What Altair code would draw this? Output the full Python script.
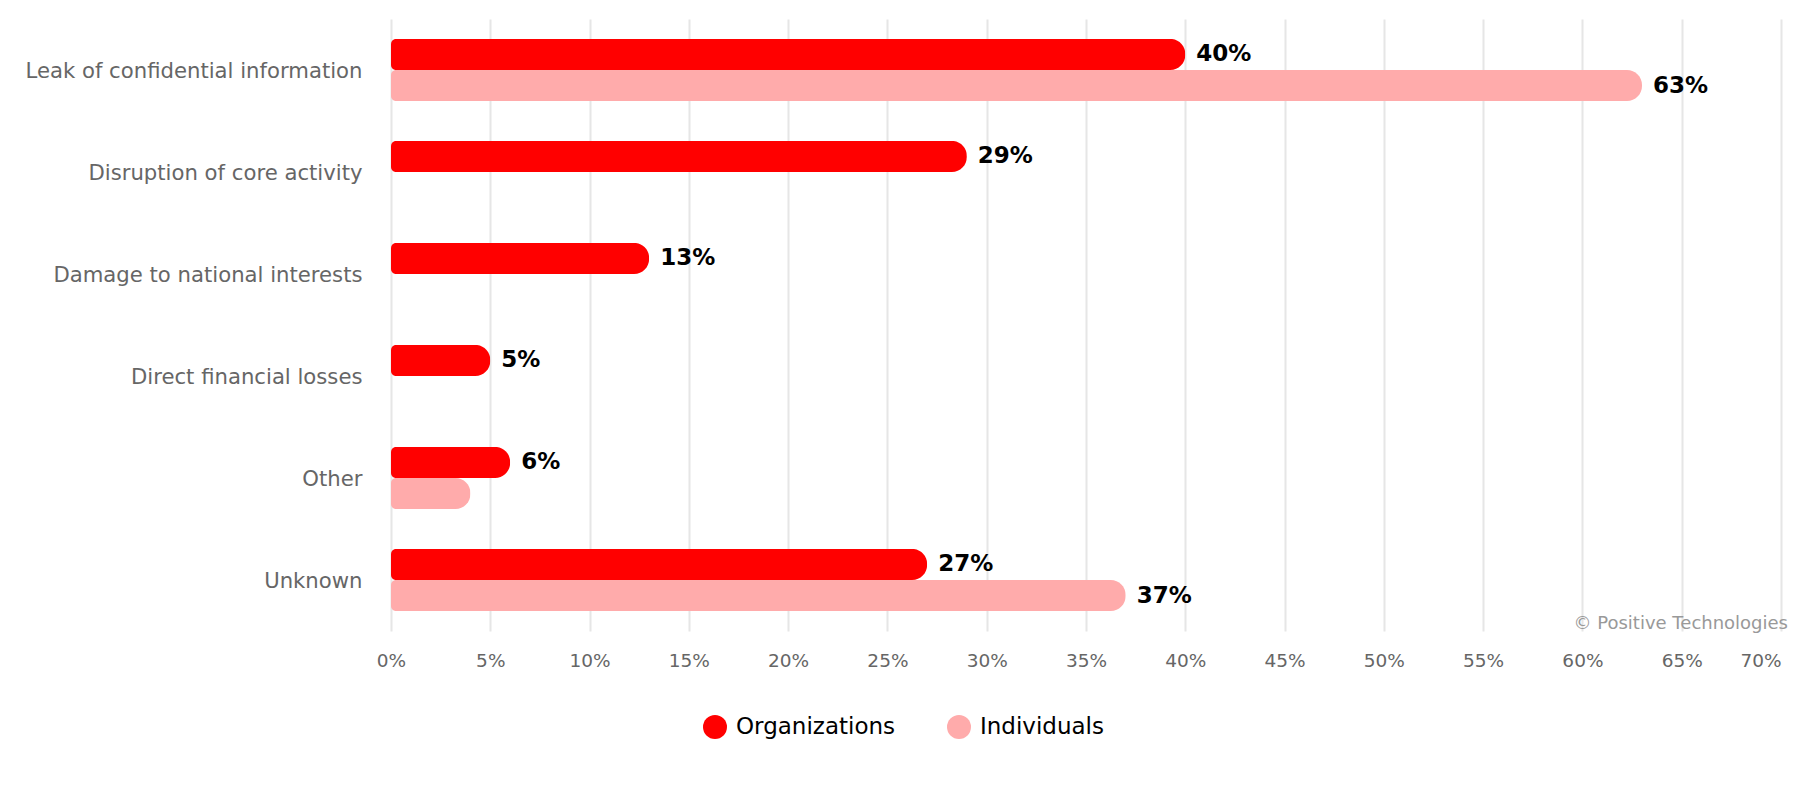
import altair as alt
import pandas as pd

categories = [
    "Leak of confidential information",
    "Disruption of core activity",
    "Damage to national interests",
    "Direct financial losses",
    "Other",
    "Unknown",
]
series = ["Organizations", "Individuals"]
colors = ["#ff0000", "#ffabab"]

org_values = [40, 29, 13, 5, 6, 27]
org_labels = ["40%", "29%", "13%", "5%", "6%", "27%"]
ind_values = [63, None, None, None, 4, 37]
ind_labels = ["63%", "", "", "", "", "37%"]

x_ticks = list(range(0, 75, 5))
credit = "© Positive Technologies"

rows = []
for c, v, l in zip(categories, org_values, org_labels):
    rows.append({"category": c, "series": series[0], "value": v, "label": l})
for c, v, l in zip(categories, ind_values, ind_labels):
    if v is not None:
        rows.append({"category": c, "series": series[1], "value": v, "label": l})
df = pd.DataFrame(rows)

FONT = "DejaVu Sans"

y_enc = alt.Y(
    "category:N",
    sort=categories,
    scale=alt.Scale(paddingInner=0.39, paddingOuter=0.195),
    axis=alt.Axis(
        title=None, domain=False, ticks=False, grid=False,
        labelFontSize=21.2, labelColor="#666666", labelPadding=29, labelFont=FONT,
        labelLimit=500, labelOffset=2,
    ),
)
yoff_enc = alt.YOffset("series:N", sort=series, scale=alt.Scale(paddingInner=0, paddingOuter=0))
x_enc = alt.X(
    "value:Q",
    scale=alt.Scale(domain=[0, 70], nice=False),
    axis=alt.Axis(
        title=None, values=x_ticks, format="d", labelExpr="datum.value + '%'",
        domain=False, ticks=False, grid=True, gridColor="#e6e6e6", gridWidth=2,
        labelFontSize=18.5, labelColor="#666666", labelPadding=20, labelFont=FONT,
        labelAlign=alt.expr("datum.value == 70 ? 'right' : 'center'"),
    ),
)

bars = alt.Chart(df).mark_bar(
    cornerRadiusTopRight=15, cornerRadiusBottomRight=15,
    cornerRadiusTopLeft=5, cornerRadiusBottomLeft=5,
).encode(
    y=y_enc,
    yOffset=yoff_enc,
    x=x_enc,
    color=alt.Color(
        "series:N",
        sort=series,
        scale=alt.Scale(domain=series, range=colors),
        legend=alt.Legend(
            title=None, orient="none", direction="horizontal",
            legendX=312, legendY=696,
            symbolType="circle", symbolSize=576, symbolStrokeWidth=0,
            labelFontSize=23, labelColor="#000000", labelFont=FONT,
            labelOffset=9, columnPadding=51, padding=0,
        ),
    ),
)

labels = alt.Chart(df).mark_text(
    align="left", baseline="middle", dx=11, fontSize=23, fontWeight="bold",
    color="#000000", font=FONT,
).encode(
    y=alt.Y("category:N", sort=categories),
    yOffset=alt.YOffset("series:N", sort=series),
    x=alt.X("value:Q"),
    text="label:N",
)

credit_df = pd.DataFrame({"t": [credit]})
credit_text = alt.Chart(credit_df).mark_text(
    align="right", baseline="middle", fontSize=18, color="#999999", font=FONT,
).encode(
    x=alt.value(1397),
    y=alt.value(605),
    text="t:N",
)

chart = alt.layer(bars, labels, credit_text).properties(
    width=1390,
    height=612,
    padding={"left": 391, "top": 19, "right": 19, "bottom": 169},
    autosize=alt.AutoSizeParams(type="none"),
).configure(
    font=FONT,
    view=alt.ViewConfig(strokeWidth=0, stroke="transparent"),
)

chart.save("out.html", embed_options={"renderer": "svg", "actions": False})
